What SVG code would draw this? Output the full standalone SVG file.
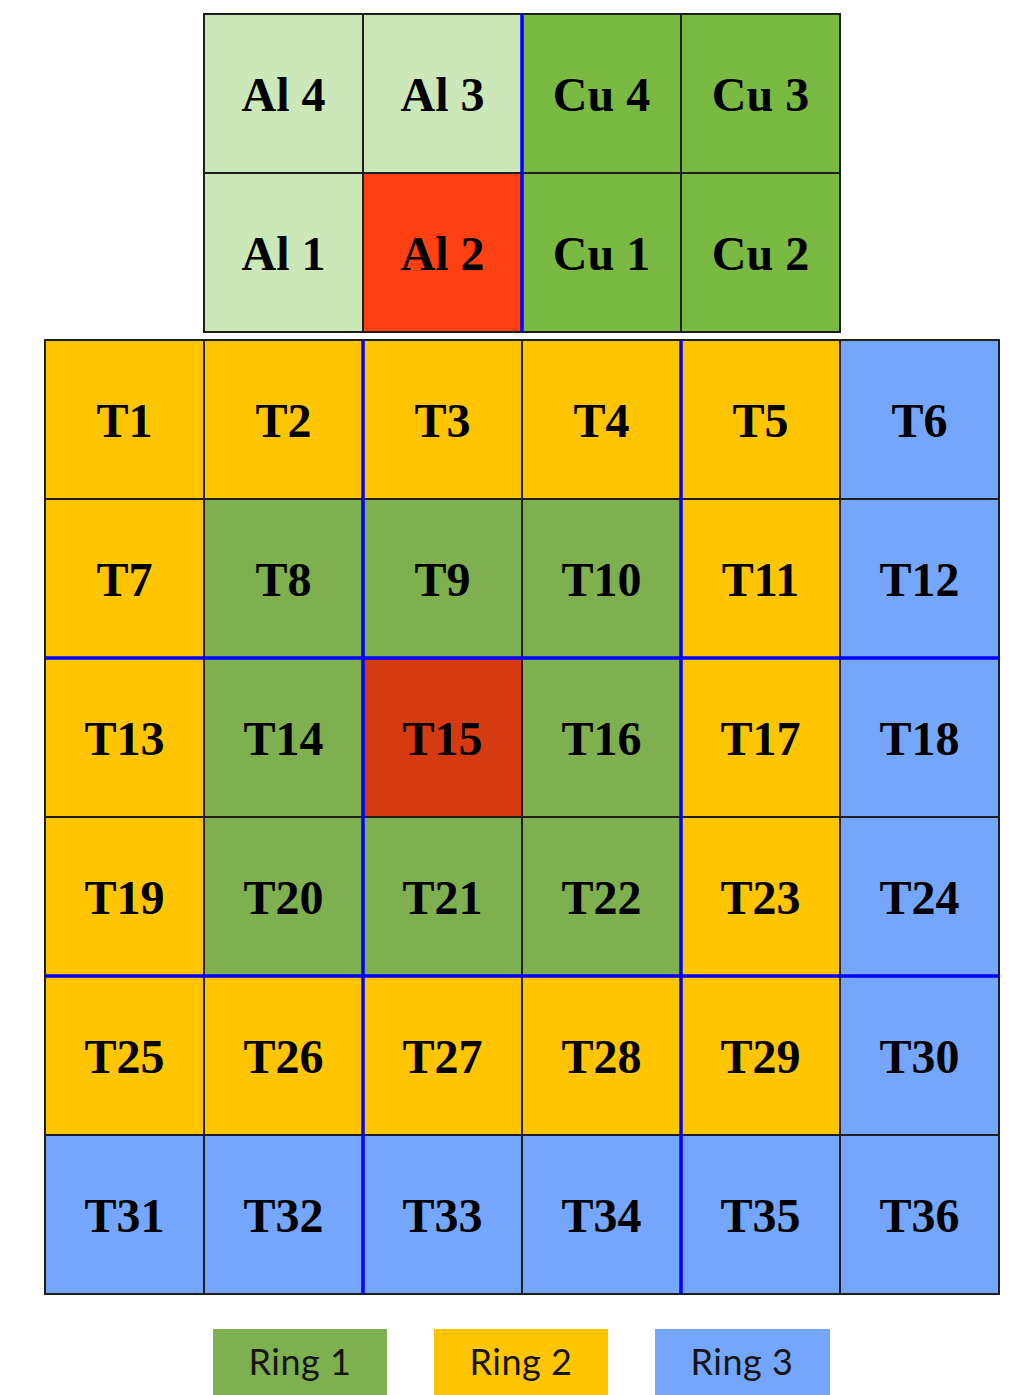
<svg xmlns="http://www.w3.org/2000/svg" width="1024" height="1395" viewBox="0 0 1024 1395">
<style>
.c{stroke:#1e1e1e;stroke-width:2}
.t{font-family:"Liberation Serif","Times New Roman",serif;font-weight:bold;font-size:48px;fill:#000;text-anchor:middle}
.lg{font-family:Lato,"DejaVu Sans",sans-serif;font-size:36px;fill:#151515;text-anchor:middle;letter-spacing:0.5px}
.al{fill:#CDE8B8}.cu{fill:#7AB942}.r1{fill:#7FB04F}.r2{fill:#FFC600}.r3{fill:#74A7FC}.hot{fill:#FF4013}.hot2{fill:#D63A10}
.b{stroke:#0000FF;stroke-width:3.5;fill:none}
</style>
<rect width="1024" height="1395" fill="#fff"/>
<g id="top-grid">
<g id="Al4"><rect class="c al" x="204" y="14" width="159" height="159"/><text class="t" x="283.5" y="111">Al 4</text></g>
<g id="Al3"><rect class="c al" x="363" y="14" width="159" height="159"/><text class="t" x="442.5" y="111">Al 3</text></g>
<g id="Cu4"><rect class="c cu" x="522" y="14" width="159" height="159"/><text class="t" x="601.5" y="111">Cu 4</text></g>
<g id="Cu3"><rect class="c cu" x="681" y="14" width="159" height="159"/><text class="t" x="760.5" y="111">Cu 3</text></g>
<g id="Al1"><rect class="c al" x="204" y="173" width="159" height="159"/><text class="t" x="283.5" y="270">Al 1</text></g>
<g id="Al2"><rect class="c hot" x="363" y="173" width="159" height="159"/><text class="t" x="442.5" y="270">Al 2</text></g>
<g id="Cu1"><rect class="c cu" x="522" y="173" width="159" height="159"/><text class="t" x="601.5" y="270">Cu 1</text></g>
<g id="Cu2"><rect class="c cu" x="681" y="173" width="159" height="159"/><text class="t" x="760.5" y="270">Cu 2</text></g>
</g>
<g id="main-grid">
<g id="T1"><rect class="c r2" x="45" y="340" width="159" height="159"/><text class="t" x="124.5" y="437">T1</text></g>
<g id="T2"><rect class="c r2" x="204" y="340" width="159" height="159"/><text class="t" x="283.5" y="437">T2</text></g>
<g id="T3"><rect class="c r2" x="363" y="340" width="159" height="159"/><text class="t" x="442.5" y="437">T3</text></g>
<g id="T4"><rect class="c r2" x="522" y="340" width="159" height="159"/><text class="t" x="601.5" y="437">T4</text></g>
<g id="T5"><rect class="c r2" x="681" y="340" width="159" height="159"/><text class="t" x="760.5" y="437">T5</text></g>
<g id="T6"><rect class="c r3" x="840" y="340" width="159" height="159"/><text class="t" x="919.5" y="437">T6</text></g>
<g id="T7"><rect class="c r2" x="45" y="499" width="159" height="159"/><text class="t" x="124.5" y="596">T7</text></g>
<g id="T8"><rect class="c r1" x="204" y="499" width="159" height="159"/><text class="t" x="283.5" y="596">T8</text></g>
<g id="T9"><rect class="c r1" x="363" y="499" width="159" height="159"/><text class="t" x="442.5" y="596">T9</text></g>
<g id="T10"><rect class="c r1" x="522" y="499" width="159" height="159"/><text class="t" x="601.5" y="596">T10</text></g>
<g id="T11"><rect class="c r2" x="681" y="499" width="159" height="159"/><text class="t" x="760.5" y="596">T11</text></g>
<g id="T12"><rect class="c r3" x="840" y="499" width="159" height="159"/><text class="t" x="919.5" y="596">T12</text></g>
<g id="T13"><rect class="c r2" x="45" y="658" width="159" height="159"/><text class="t" x="124.5" y="755">T13</text></g>
<g id="T14"><rect class="c r1" x="204" y="658" width="159" height="159"/><text class="t" x="283.5" y="755">T14</text></g>
<g id="T15"><rect class="c hot2" x="363" y="658" width="159" height="159"/><text class="t" x="442.5" y="755">T15</text></g>
<g id="T16"><rect class="c r1" x="522" y="658" width="159" height="159"/><text class="t" x="601.5" y="755">T16</text></g>
<g id="T17"><rect class="c r2" x="681" y="658" width="159" height="159"/><text class="t" x="760.5" y="755">T17</text></g>
<g id="T18"><rect class="c r3" x="840" y="658" width="159" height="159"/><text class="t" x="919.5" y="755">T18</text></g>
<g id="T19"><rect class="c r2" x="45" y="817" width="159" height="159"/><text class="t" x="124.5" y="914">T19</text></g>
<g id="T20"><rect class="c r1" x="204" y="817" width="159" height="159"/><text class="t" x="283.5" y="914">T20</text></g>
<g id="T21"><rect class="c r1" x="363" y="817" width="159" height="159"/><text class="t" x="442.5" y="914">T21</text></g>
<g id="T22"><rect class="c r1" x="522" y="817" width="159" height="159"/><text class="t" x="601.5" y="914">T22</text></g>
<g id="T23"><rect class="c r2" x="681" y="817" width="159" height="159"/><text class="t" x="760.5" y="914">T23</text></g>
<g id="T24"><rect class="c r3" x="840" y="817" width="159" height="159"/><text class="t" x="919.5" y="914">T24</text></g>
<g id="T25"><rect class="c r2" x="45" y="976" width="159" height="159"/><text class="t" x="124.5" y="1073">T25</text></g>
<g id="T26"><rect class="c r2" x="204" y="976" width="159" height="159"/><text class="t" x="283.5" y="1073">T26</text></g>
<g id="T27"><rect class="c r2" x="363" y="976" width="159" height="159"/><text class="t" x="442.5" y="1073">T27</text></g>
<g id="T28"><rect class="c r2" x="522" y="976" width="159" height="159"/><text class="t" x="601.5" y="1073">T28</text></g>
<g id="T29"><rect class="c r2" x="681" y="976" width="159" height="159"/><text class="t" x="760.5" y="1073">T29</text></g>
<g id="T30"><rect class="c r3" x="840" y="976" width="159" height="159"/><text class="t" x="919.5" y="1073">T30</text></g>
<g id="T31"><rect class="c r3" x="45" y="1135" width="159" height="159"/><text class="t" x="124.5" y="1232">T31</text></g>
<g id="T32"><rect class="c r3" x="204" y="1135" width="159" height="159"/><text class="t" x="283.5" y="1232">T32</text></g>
<g id="T33"><rect class="c r3" x="363" y="1135" width="159" height="159"/><text class="t" x="442.5" y="1232">T33</text></g>
<g id="T34"><rect class="c r3" x="522" y="1135" width="159" height="159"/><text class="t" x="601.5" y="1232">T34</text></g>
<g id="T35"><rect class="c r3" x="681" y="1135" width="159" height="159"/><text class="t" x="760.5" y="1232">T35</text></g>
<g id="T36"><rect class="c r3" x="840" y="1135" width="159" height="159"/><text class="t" x="919.5" y="1232">T36</text></g>
</g>
<g id="connectors">
<line class="b" x1="522" y1="14" x2="522" y2="332"/>
<line class="b" x1="363" y1="340" x2="363" y2="1294"/>
<line class="b" x1="681" y1="340" x2="681" y2="1294"/>
<line class="b" x1="45" y1="658" x2="999" y2="658"/>
<line class="b" x1="45" y1="976" x2="999" y2="976"/>
</g>
<g id="legend">
<g id="ring1"><rect class="r1" x="213" y="1329" width="174" height="70"/><text class="lg" x="300" y="1375">Ring 1</text></g>
<g id="ring2"><rect class="r2" x="434" y="1329" width="174" height="70"/><text class="lg" x="521" y="1375">Ring 2</text></g>
<g id="ring3"><rect class="r3" x="655" y="1329" width="175" height="70"/><text class="lg" x="742" y="1375">Ring 3</text></g>
</g>
</svg>
